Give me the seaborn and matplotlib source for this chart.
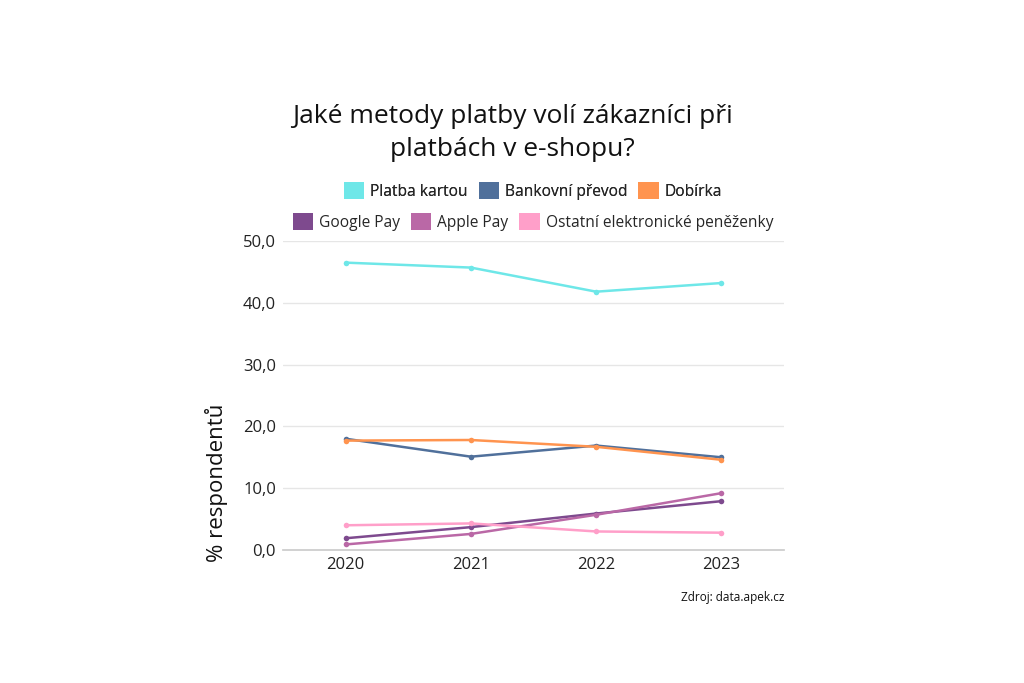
import numpy as np
import pandas as pd
import matplotlib.pyplot as plt
import seaborn as sns
from matplotlib.patches import Patch

YEARS = ["2020", "2021", "2022", "2023"]
SERIES = [
    "Platba kartou",
    "Bankovní převod",
    "Dobírka",
    "Google Pay",
    "Apple Pay",
    "Ostatní elektronické peněženky",
]
platba_kartou = [46.5, 45.7, 41.8, 43.2]
bankovni_prevod = [18.0, 15.1, 16.9, 15.0]
dobirka = [17.7, 17.8, 16.7, 14.6]
google_pay = [1.9, 3.7, 5.9, 7.9]
apple_pay = [0.9, 2.6, 5.7, 9.2]
ostatni = [4.0, 4.3, 3.0, 2.8]

COLORS = ["#6EE7E8", "#50709B", "#FF944F", "#7E4A8E", "#BA68A6", "#FF9FC9"]

values = [platba_kartou, bankovni_prevod, dobirka, google_pay, apple_pay, ostatni]
rows = []
for name, vals in zip(SERIES, values):
    for i, v in enumerate(vals):
        rows.append({"rok": i, "metoda": name, "hodnota": v})
df = pd.DataFrame(rows)

sns.set_theme(style="white")
plt.rcParams["font.family"] = ["Open Sans", "DejaVu Sans"]

fig = plt.figure(figsize=(10.24, 6.83), dpi=100)
ax = fig.add_axes([283 / 1024, 1 - 550 / 683, (784 - 283) / 1024, (550 - 241) / 683])

sns.lineplot(
    data=df, x="rok", y="hodnota", hue="metoda", hue_order=SERIES,
    palette=COLORS, marker="o", markersize=4, markeredgewidth=0,
    linewidth=1.8, legend=False, ax=ax,
)

ax.set_xlim(-0.5, 3.5)
ax.set_ylim(0, 50)
ax.set_xticks(range(len(YEARS)))
ax.set_xticklabels(YEARS)
ticks = np.arange(0, 51, 10)
ax.set_yticks(ticks)
ax.set_yticklabels([f"{t:.1f}".replace(".", ",") for t in ticks])
ax.tick_params(axis="both", labelsize=12, colors="#222222", length=0, pad=5)
ax.yaxis.grid(True, color="#e6e6e6", linewidth=1)
ax.set_axisbelow(True)
for side in ["left", "right", "top"]:
    ax.spines[side].set_visible(False)
ax.spines["bottom"].set_color("#cccccc")
ax.set_xlabel("")
ax.set_ylabel("")

fig.text(216 / 1024, 1 - 483 / 683, "% respondentů", rotation=90, ha="center", va="center",
         fontsize=16, color="#111111")

fig.text(0.5, 1 - 133 / 683, "Jaké metody platby volí zákazníci při\nplatbách v e-shopu?",
         ha="center", va="center", fontsize=19, color="#111111", linespacing=1.4)

handles = [Patch(facecolor=c, edgecolor="none") for c in COLORS]
cx = 533 / 1024
leg_kw = dict(loc="center", ncol=3, frameon=False, fontsize=11.2, handlelength=1.3,
              handleheight=1.3, handletextpad=0.4, columnspacing=0.7)
leg1 = fig.legend(handles[:3], SERIES[:3], bbox_to_anchor=(cx, 1 - 191 / 683), **leg_kw)
fig.add_artist(leg1)
fig.legend(handles[3:], SERIES[3:], bbox_to_anchor=(cx, 1 - 222 / 683), **leg_kw)

fig.text(784 / 1024, 1 - 598 / 683, "Zdroj: data.apek.cz", ha="right", va="center",
         fontsize=8.5, color="#111111")

fig.savefig("out.png", dpi=100)
